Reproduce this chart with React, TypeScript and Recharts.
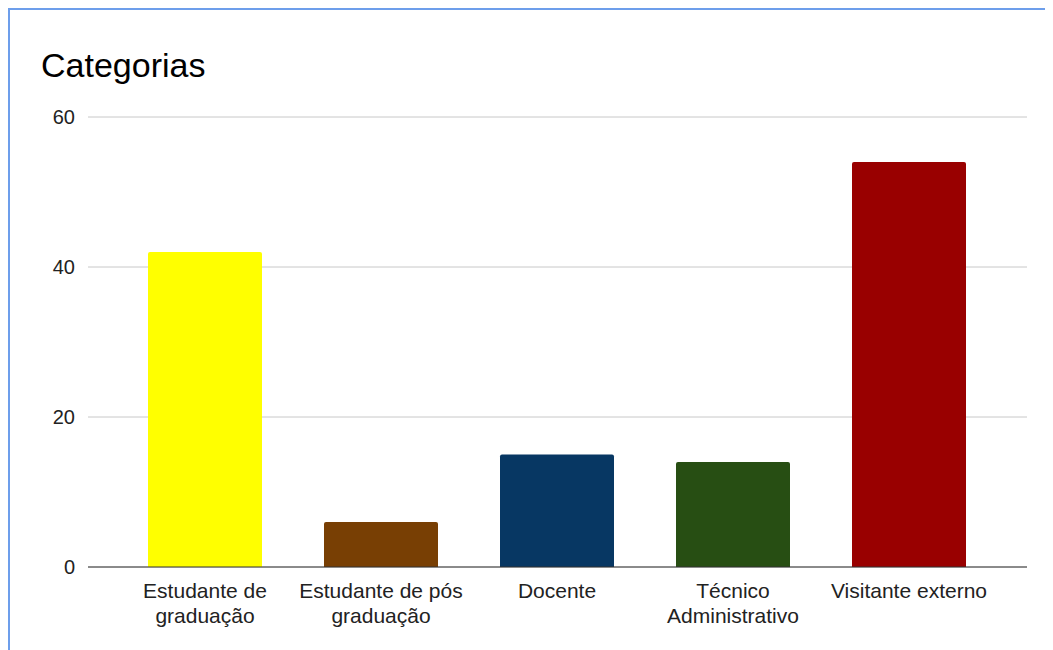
import React from 'react';
import { BarChart, Bar, Cell, XAxis, YAxis, CartesianGrid } from 'recharts';

const categories = [
  'Estudante de graduação',
  'Estudante de pós graduação',
  'Docente',
  'Técnico Administrativo',
  'Visitante externo',
];
// how each category label is broken over lines under the axis
const categoryLines = [
  ['Estudante de', 'graduação'],
  ['Estudante de pós', 'graduação'],
  ['Docente'],
  ['Técnico', 'Administrativo'],
  ['Visitante externo'],
];
const counts = [42, 6, 15, 14, 54];
const colors = ['#ffff00', '#783f04', '#073763', '#274e13', '#990000'];
const yTicks = [0, 20, 40, 60];

const data = categories.map((name, i) => ({ name, value: counts[i] }));

const FONT = '"Liberation Sans", Arial, sans-serif';

function CategoryTick(props: any) {
  const { x, y, payload } = props;
  const idx = categories.indexOf(payload.value);
  const lines = idx >= 0 ? categoryLines[idx] : [payload.value];
  return (
    <text
      x={x}
      y={y + 23}
      textAnchor="middle"
      fontSize={21}
      fontFamily={FONT}
      fill="#222"
    >
      {lines.map((l: string, i: number) => (
        <tspan key={i} x={x} dy={i === 0 ? 0 : 25}>{l}</tspan>
      ))}
    </text>
  );
}

export default function App() {
  return (
    <div style={{ position: 'relative', width: 1045, height: 642, overflow: 'hidden' }}>
      <div
        style={{
          position: 'absolute', left: 0, top: 0, width: 1045, height: 642,
          borderTop: '2px solid #6d9eeb', borderLeft: '2px solid #6d9eeb',
          boxSizing: 'border-box',
        }}
      />
      <div
        style={{
          position: 'absolute', left: 33, top: 40, fontFamily: FONT,
          fontSize: 34, lineHeight: '34px', color: '#000', whiteSpace: 'nowrap',
        }}
      >
        Categorias
      </div>
      <div style={{ position: 'absolute', left: 0, top: 0 }}>
        <BarChart
          width={1045}
          height={642}
          data={data}
          margin={{ top: 109, right: 26, bottom: 23, left: 0 }}
          barSize={114}
        >
          <CartesianGrid vertical={false} stroke="#c8c8c8" strokeWidth={1} />
          <XAxis
            dataKey="name"
            interval={0}
            height={60}
            padding={{ left: 29, right: 30 }}
            tickLine={false}
            axisLine={{ stroke: '#333333', strokeWidth: 1 }}
            tick={<CategoryTick />}
          />
          <YAxis
            width={80}
            domain={[0, 60]}
            ticks={yTicks}
            tickLine={false}
            axisLine={false}
            tickMargin={7}
            tick={{ fontSize: 20, fontFamily: FONT, fill: '#222' }}
          />
          <Bar dataKey="value" radius={[2, 2, 0, 0]} isAnimationActive={false}>
            {data.map((_, i) => (
              <Cell key={i} fill={colors[i]} />
            ))}
          </Bar>
        </BarChart>
      </div>
    </div>
  );
}
